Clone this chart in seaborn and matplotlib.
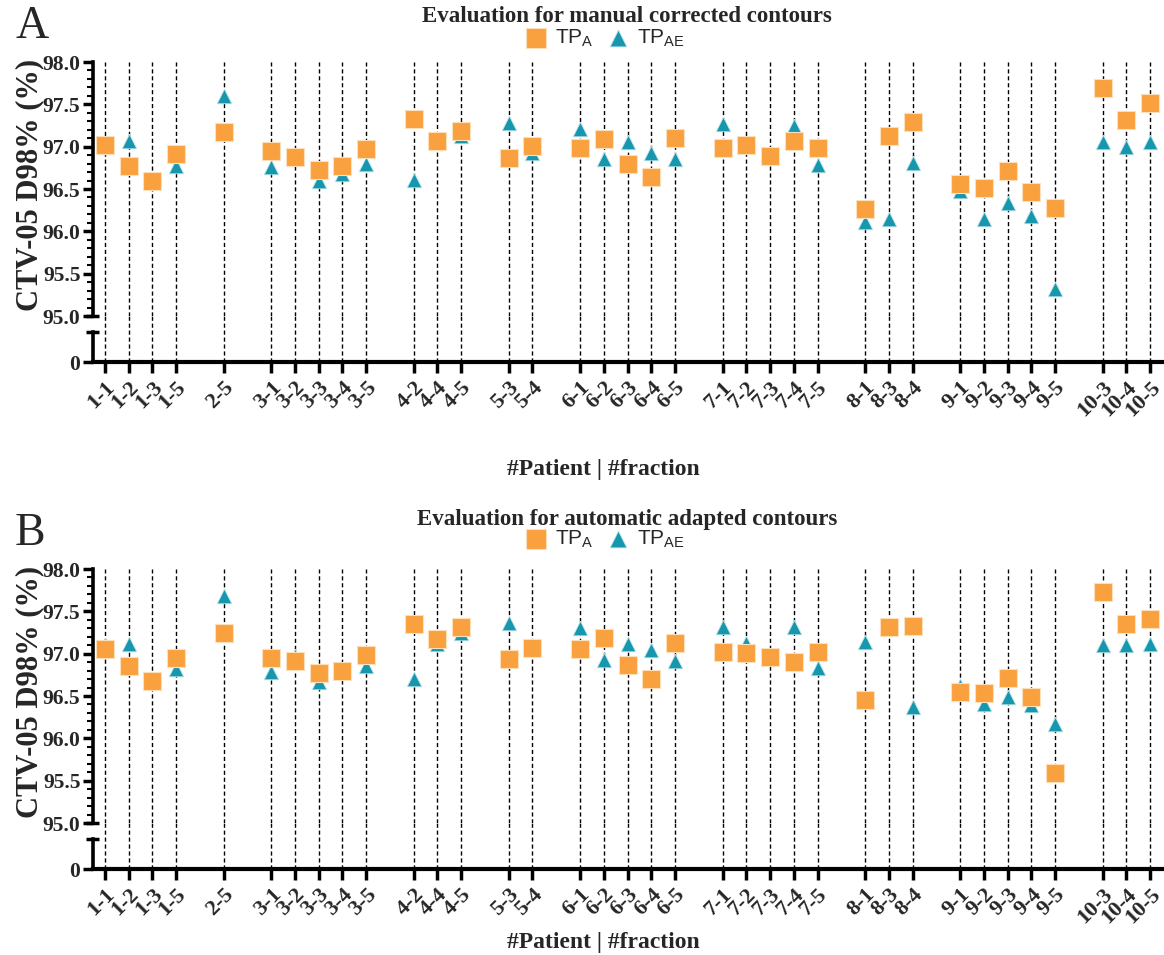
import matplotlib
matplotlib.use("Agg")
import matplotlib.pyplot as plt
import seaborn as sns
import pandas as pd
import numpy as np
from matplotlib.ticker import MultipleLocator

sns.set_theme(style="white")
plt.rcParams['font.family'] = ['Liberation Serif', 'DejaVu Serif']
plt.rcParams['font.weight'] = 'bold'
plt.rcParams['mathtext.default'] = 'regular'

# patient-fraction cases
cases = ['1-1', '1-2', '1-3', '1-5', '2-5', '3-1', '3-2', '3-3', '3-4', '3-5',
         '4-2', '4-4', '4-5', '5-3', '5-4', '6-1', '6-2', '6-3', '6-4', '6-5',
         '7-1', '7-2', '7-3', '7-4', '7-5', '8-1', '8-3', '8-4',
         '9-1', '9-2', '9-3', '9-4', '9-5', '10-3', '10-4', '10-5']

# A: manual corrected contours
manual_tpa = [97.02, 96.77, 96.59, 96.91, 97.17, 96.95, 96.88, 96.73, 96.77, 96.97,
              97.33, 97.07, 97.19, 96.87, 97.01, 96.98, 97.09, 96.79, 96.64, 97.10,
              96.99, 97.02, 96.89, 97.07, 96.98, 96.26, 97.13, 97.29,
              96.56, 96.51, 96.71, 96.46, 96.28, 97.69, 97.32, 97.52]
manual_tpae = [97.00, 97.07, 96.58, 96.77, 97.60, 96.76, 96.87, 96.60, 96.68, 96.80,
               96.61, 97.04, 97.13, 97.28, 96.92, 97.21, 96.86, 97.05, 96.93, 96.86,
               97.27, 97.01, 96.88, 97.25, 96.78, 96.11, 96.14, 96.81,
               96.48, 96.15, 96.34, 96.18, 95.32, 97.05, 97.00, 97.06]

# B: automatic adapted contours
auto_tpa = [97.05, 96.85, 96.68, 96.95, 97.25, 96.95, 96.91, 96.77, 96.79, 96.99,
            97.35, 97.17, 97.32, 96.94, 97.07, 97.05, 97.18, 96.87, 96.70, 97.13,
            97.02, 97.01, 96.96, 96.90, 97.02, 96.45, 97.31, 97.33,
            96.55, 96.54, 96.71, 96.49, 95.59, 97.73, 97.35, 97.41]
auto_tpae = [97.10, 97.11, 96.67, 96.82, 97.68, 96.78, 96.97, 96.66, 96.78, 96.85,
             96.70, 97.12, 97.25, 97.36, 97.05, 97.30, 96.92, 97.11, 97.04, 96.91,
             97.31, 97.13, 96.95, 97.32, 96.83, 97.14, 97.33, 96.37,
             96.62, 96.40, 96.49, 96.39, 96.17, 97.10, 97.10, 97.12]

orange = '#F9A03F'
teal = '#1697AE'

# x slot for each case, one empty slot between patients
pos = []
p = -1
prev = None
for c in cases:
    pt = c.split('-')[0]
    p += 1 if (prev is None or pt == prev) else 2
    pos.append(p)
    prev = pt

W, H = 1164, 955
fig = plt.figure(figsize=(W / 100, H / 100), dpi=100)


def rect(l, t, r, b):
    return [l / W, 1 - b / H, (r - l) / W, (b - t) / H]


def panel(top_px, letter, title, tpa, tpae, xlabel_y, leg_off, title_off):
    up_t, up_b = top_px, top_px + 254
    lo_t, lo_b = up_b + 16, up_b + 46
    ax = fig.add_axes(rect(93, up_t, 1162, up_b))
    axl = fig.add_axes(rect(93, lo_t, 1162, lo_b))

    df = pd.DataFrame({'x': pos + pos, 'val': tpae + tpa,
                       'plan': ['TP$_{AE}$'] * len(pos) + ['TP$_{A}$'] * len(pos)})
    sns.scatterplot(data=df[df.plan == 'TP$_{AE}$'], x='x', y='val', ax=ax,
                    marker='^', s=110, color=teal, edgecolor='#bfe3ea',
                    linewidth=0.6, label='TP$_{AE}$', zorder=3)
    sns.scatterplot(data=df[df.plan == 'TP$_{A}$'], x='x', y='val', ax=ax,
                    marker='s', s=150, color=orange, edgecolor='#fde0bb',
                    linewidth=0.8, label='TP$_{A}$', zorder=4)

    for x in pos:
        ax.axvline(x, color='black', lw=1.0, ls=(0, (3, 2)), zorder=1)
        axl.axvline(x, ymin=0, ymax=1 + 16 / 30, color='black', lw=1.0,
                    ls=(0, (3, 2)), zorder=1, clip_on=False)

    for a in (ax, axl):
        a.set_xlim(-0.5, pos[-1] + 0.5)
        a.set_facecolor('none')
        a.set_xlabel('')
        a.set_ylabel('')
        for s in ('top', 'right'):
            a.spines[s].set_visible(False)
        a.spines['left'].set_linewidth(2.6)
        a.spines['left'].set_color('black')

    ax.spines['bottom'].set_visible(False)
    ax.set_ylim(95, 98)
    ax.yaxis.set_major_locator(MultipleLocator(0.5))
    ax.yaxis.set_minor_locator(MultipleLocator(0.1))
    ax.set_yticklabels([f'{v:.1f}' for v in ax.get_yticks()])
    ax.set_ylim(95, 98)
    ax.set_xticks([])
    ax.tick_params(axis='y', which='major', left=True, direction='out', length=7,
                   width=2.5, labelsize=15.5, pad=2, color='black')
    ax.tick_params(axis='y', which='minor', left=True, direction='out', length=4,
                   width=1.5, color='black')

    axl.set_ylim(0, 1)
    axl.set_yticks([0])
    axl.set_yticklabels(['0'])
    axl.spines['bottom'].set_linewidth(3)
    axl.spines['bottom'].set_color('black')
    axl.set_xticks(pos)
    axl.set_xticklabels(cases, rotation=45, ha='right', rotation_mode='anchor')
    axl.tick_params(axis='x', bottom=True, direction='out', length=8, width=2.5,
                    labelsize=16, pad=3, color='black')
    axl.tick_params(axis='y', left=True, direction='out', length=7, width=2.5,
                    labelsize=15.5, pad=2, color='black')

    # axis-break caps
    for a, yy in ((ax, 0), (axl, 1)):
        a.plot([-0.007, 0.006], [yy, yy], transform=a.transAxes, color='black',
               lw=2.5, clip_on=False, solid_capstyle='butt')

    handles, labels = ax.get_legend_handles_labels()
    order = [labels.index('TP$_{A}$'), labels.index('TP$_{AE}$')]
    ax.legend([handles[i] for i in order], [labels[i] for i in order],
              loc='center', bbox_to_anchor=(0.478, 1 + leg_off / 254), ncol=2,
              frameon=False, prop={'family': 'Liberation Sans', 'weight': 'normal',
                                   'size': 15},
              handletextpad=0.3, columnspacing=0.6, borderaxespad=0,
              handlelength=1.2, markerscale=1.15)

    fig.text(15 / W, 1 - (top_px - 35) / H, letter, fontsize=33,
             fontweight='normal', va='center', ha='left')
    fig.text(627 / W, 1 - (top_px - title_off) / H, title, fontsize=16.5,
             ha='center', va='center')
    fig.text(30 / W, 1 - (top_px + 123) / H, 'CTV-05 D98% (%)', fontsize=22,
             rotation=90, ha='center', va='center')
    fig.text(603 / W, 1 - xlabel_y / H, '#Patient | #fraction', fontsize=17,
             ha='center', va='center')


panel(62, 'A', 'Evaluation for manual corrected contours', manual_tpa, manual_tpae,
      470, 24, 46)
panel(569, 'B', 'Evaluation for automatic adapted contours', auto_tpa, auto_tpae,
      942, 30, 50)

fig.savefig('out.png', dpi=100)
